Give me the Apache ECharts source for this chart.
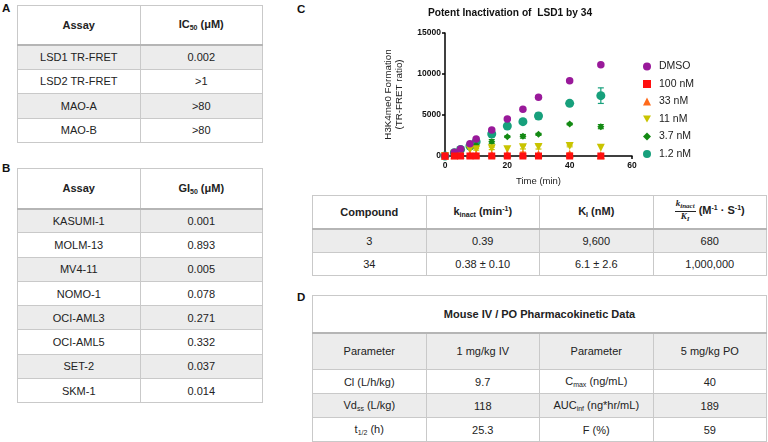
<!DOCTYPE html>
<html><head><meta charset="utf-8">
<script src="https://cdn.jsdelivr.net/npm/echarts@6/dist/echarts.min.js"></script>
<style>
html,body{margin:0;padding:0;background:#fff;width:768px;height:442px;overflow:hidden;font-family:"Liberation Sans",Arial,sans-serif;color:#222;}
.lbl{position:absolute;font-weight:bold;font-size:11.5px;color:#111;}
table{position:absolute;border-collapse:collapse;table-layout:fixed;font-size:11px;}
td,th{border:1px solid #c9c9c9;text-align:center;padding:0;color:#222;}
th{font-weight:bold;}
tr.g td{background:#ececec;}
tr.h th{border-bottom:2px solid #b5b5b5;}
sub{font-size:7px;vertical-align:-2px;}
sup{font-size:7px;vertical-align:4px;}
.fr{display:inline-block;vertical-align:middle;text-align:center;font-style:italic;font-family:"Liberation Serif",serif;font-size:9px;line-height:9px;}
.fr span{display:block;padding:0 1px;}
.fr span.t{border-bottom:1px solid #222;}
#chart{position:absolute;left:280px;top:0;width:488px;height:195px;}
</style></head>
<body>
<div class="lbl" style="left:2px;top:2px">A</div>
<div class="lbl" style="left:2px;top:162px">B</div>
<div class="lbl" style="left:297px;top:3px">C</div>
<div class="lbl" style="left:297px;top:291px">D</div>
<table id="tA" style="left:17px;top:5px;width:246px"></table>
<table id="tB" style="left:17px;top:168px;width:246px"></table>
<table id="tC" style="left:312px;top:195px;width:455px"></table>
<table id="tD" style="left:312px;top:295px;width:455px"></table>
<div id="chart"></div>
<script>
// ---- Table data ----
const aAssays = ['LSD1 TR-FRET','LSD2 TR-FRET','MAO-A','MAO-B'];
const aIC50 = ['0.002','>1','>80','>80'];
const bCells = ['KASUMI-1','MOLM-13','MV4-11','NOMO-1','OCI-AML3','OCI-AML5','SET-2','SKM-1'];
const bGI50 = ['0.001','0.893','0.005','0.078','0.271','0.332','0.037','0.014'];
const cCompounds = ['3','34'];
const cKinact = ['0.39','0.38 ± 0.10'];
const cKi = ['9,600','6.1 ± 2.6'];
const cRatio = ['680','1,000,000'];
const dParamIV = ['Cl (L/h/kg)','Vd<sub>ss</sub> (L/kg)','t<sub>1/2</sub> (h)'];
const dIV = ['9.7','118','25.3'];
const dParamPO = ['C<sub>max</sub> (ng/mL)','AUC<sub>inf</sub> (ng*hr/mL)','F (%)'];
const dPO = ['40','189','59'];

// ---- Chart data ----
const times = [0,3,5,8,10,15,20,25,30,40,50];
const dmso  = [0,450,850,1480,2060,3170,4510,5690,7150,9190,11140];
const nM100 = [0,0,0,0,0,0,0,0,0,0,0];
const nM33  = [0,100,150,200,200,220,230,320,250,260,80];
const nM11  = [0,250,450,750,820,930,810,1060,1100,1220,1000];
const nM3_7 = [0,350,650,1050,1340,1750,2360,2400,2640,3900,3580];
const nM1_2 = [0,400,800,1220,1750,2680,3660,4190,4880,6420,7360];
const err3_7 = [0,0,0,100,200,250,100,220,120,100,250];
const err1_2 = [0,0,0,100,150,200,150,200,350,150,950];
const err11  = [0,0,0,0,100,150,0,200,250,100,0];
const err33  = [0,0,0,0,0,0,0,150,0,100,0];
const seriesNames = ['DMSO','100 nM','33 nM','11 nM','3.7 nM','1.2 nM'];

function rows(trs){return trs.join('');}
document.getElementById('tA').innerHTML =
  '<tr class="h" style="height:39px"><th>Assay</th><th>IC<sub>50</sub> (μM)</th></tr>' +
  rows(aAssays.map((a,i)=>`<tr class="${i%2==0?'g':''}" style="height:24.5px"><td>${a}</td><td>${aIC50[i]}</td></tr>`));
document.getElementById('tB').innerHTML =
  '<tr class="h" style="height:40px"><th>Assay</th><th>GI<sub>50</sub> (μM)</th></tr>' +
  rows(bCells.map((a,i)=>`<tr class="${i%2==0?'g':''}" style="height:24.3px"><td>${a}</td><td>${bGI50[i]}</td></tr>`));
document.getElementById('tC').innerHTML =
  '<tr class="h" style="height:33px"><th>Compound</th><th>k<sub>inact</sub> (min<sup>-1</sup>)</th><th>K<sub>I</sub> (nM)</th>' +
  '<th><span class="fr"><span class="t">k<sub>inact</sub></span><span>K<sub>I</sub></span></span> (M<sup>-1</sup> · S<sup>-1</sup>)</th></tr>' +
  rows(cCompounds.map((c,i)=>`<tr class="${i%2==0?'g':''}" style="height:23.5px"><td>${c}</td><td>${cKinact[i]}</td><td>${cKi[i]}</td><td>${cRatio[i]}</td></tr>`));
document.getElementById('tD').innerHTML =
  '<tr style="height:37px"><th colspan="4" style="border-bottom:2px solid #b5b5b5">Mouse IV / PO Pharmacokinetic Data</th></tr>' +
  '<tr class="g" style="height:37px"><td>Parameter</td><td>1 mg/kg IV</td><td>Parameter</td><td>5 mg/kg PO</td></tr>' +
  rows(dParamIV.map((p,i)=>`<tr class="${i%2==1?'g':''}" style="height:24px"><td>${p}</td><td>${dIV[i]}</td><td>${dParamPO[i]}</td><td>${dPO[i]}</td></tr>`));

const chart = echarts.init(document.getElementById('chart'));
function pts(vals){return times.map((t,i)=>[t,vals[i]]);}
function errSeries(name, vals, errs, color){
  return {
    type:'custom', name:name + ' error', z:1, silent:true,
    itemStyle:{color:color},
    data: times.map((t,i)=>[t, vals[i]-errs[i], vals[i]+errs[i]]).filter((d,i)=>errs[i]>0),
    renderItem:function(params, api){
      const lo = api.coord([api.value(0), api.value(1)]);
      const hi = api.coord([api.value(0), api.value(2)]);
      const w = 3;
      const st = {stroke:color, lineWidth:1.2};
      return {type:'group', children:[
        {type:'line', shape:{x1:lo[0],y1:lo[1],x2:hi[0],y2:hi[1]}, style:st},
        {type:'line', shape:{x1:lo[0]-w,y1:lo[1],x2:lo[0]+w,y2:lo[1]}, style:st},
        {type:'line', shape:{x1:hi[0]-w,y1:hi[1],x2:hi[0]+w,y2:hi[1]}, style:st}
      ]};
    }
  };
}
const colors = {'DMSO':'#99199a','100 nM':'#ff0f0f','33 nM':'#ff6a1a','11 nM':'#c9c400','3.7 nM':'#138a13','1.2 nM':'#17a07c'};
const downTri = 'path://M0,0 L10,0 L5,9 Z';
function sc(name, vals, symbol, size, z){
  return {type:'scatter', name:name, data:pts(vals), symbol:symbol, symbolSize:size, z:z,
    itemStyle:{color:colors[name], opacity:1}};
}
chart.setOption({
  animation:false,
  textStyle:{fontFamily:'Liberation Sans, Arial, sans-serif'},
  title:{text:'Potent Inactivation of  LSD1 by 34', left:225, top:3, textAlign:'center',
    textStyle:{fontSize:10.2, fontWeight:'bold', color:'#111'}},
  legend:{data:seriesNames, orient:'vertical', left:358, top:56, itemGap:6.5, itemWidth:8, itemHeight:8,
    textStyle:{fontSize:10.5, color:'#222', padding:[0,0,0,3]}},
  grid:{left:165, top:33, width:187, height:123},
  xAxis:{type:'value', min:0, max:60, interval:20, name:'Time (min)', nameLocation:'middle', nameGap:20,
    nameTextStyle:{fontSize:9.5, color:'#222'},
    axisLine:{lineStyle:{color:'#000', width:1.5}}, axisTick:{length:3, lineStyle:{color:'#000', width:1.5}},
    axisLabel:{fontSize:8.5, fontWeight:'bold', color:'#111', margin:5}, splitLine:{show:false}},
  yAxis:{type:'value', min:0, max:15000, interval:5000, name:'H3K4me0 Formation\n(TR-FRET ratio)',
    nameLocation:'middle', nameRotate:90, nameGap:40,
    nameTextStyle:{fontSize:9.8, color:'#222', lineHeight:11},
    axisLine:{show:true, lineStyle:{color:'#000', width:1.5}}, axisTick:{show:true, length:3, lineStyle:{color:'#000', width:1.5}},
    axisLabel:{fontSize:8.5, fontWeight:'bold', color:'#111', margin:4, formatter:function(v){return String(v);}}, splitLine:{show:false}},
  series:[
    errSeries('1.2 nM', nM1_2, err1_2, colors['1.2 nM']),
    errSeries('3.7 nM', nM3_7, err3_7, colors['3.7 nM']),
    errSeries('11 nM', nM11, err11, colors['11 nM']),
    errSeries('33 nM', nM33, err33, colors['33 nM']),
    sc('1.2 nM', nM1_2, 'circle', 9, 2),
    sc('3.7 nM', nM3_7, 'diamond', 7, 3),
    sc('11 nM', nM11, downTri, 8, 4),
    sc('33 nM', nM33, 'triangle', 8, 5),
    sc('DMSO', dmso, 'circle', 7.5, 6),
    sc('100 nM', nM100, 'rect', 7, 7)
  ]
});
</script>
</body></html>
